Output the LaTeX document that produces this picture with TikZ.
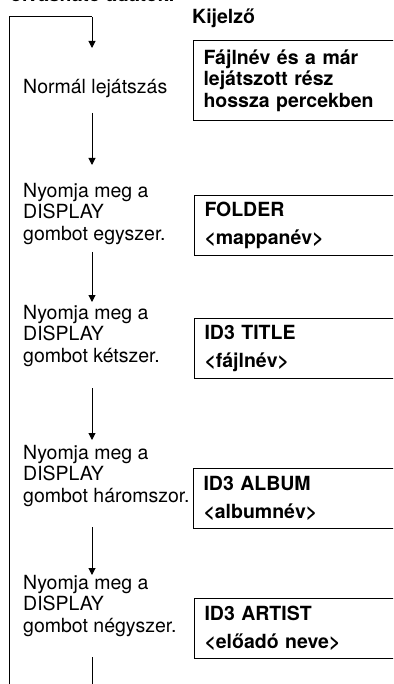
\documentclass[tikz,border=0pt]{standalone}
\usepackage{fontspec}
\setmainfont{TeX Gyre Heros}
\usetikzlibrary{arrows.meta}
\begin{document}
\begin{tikzpicture}[x=1pt,y=-1pt,
  ln/.style={line width=1pt, draw=black},
  arr/.style={ln, -{Triangle[width=7pt,length=7pt]}},
  lbl/.style={anchor=west, align=left, inner sep=0pt, font=\fontsize{19.5}{21.5}\selectfont},
  disp/.style={draw, line width=1pt, anchor=north west, minimum width=230pt, text width=210pt,
    align=left, inner xsep=9pt, inner ysep=0pt, font=\bfseries\fontsize{19.5}{28}\selectfont},
  disp1/.style={disp, minimum height=80pt, font=\bfseries\fontsize{19.5}{21.5}\selectfont},
  disp2/.style={disp, minimum height=60pt}]
\useasboundingbox (0,0) rectangle (393,684);
\clip (0,0) rectangle (393,684);
% clipped heading
\node[anchor=base west, inner sep=0pt, font=\bfseries\fontsize{19.5}{21}\selectfont] (head) at (10,2) {olvasható adatok.};
\node[anchor=west, inner sep=0pt, font=\bfseries\fontsize{19.5}{21}\selectfont] (kij) at (192,18) {Kijelző};
% left column
\node[lbl] (n0) at (23,89) {Normál lejátszás};
\node[lbl] (s1) at (23,214) {Nyomja meg a\\DISPLAY\\gombot egyszer.};
\node[lbl] (s2) at (23,336) {Nyomja meg a\\DISPLAY\\gombot kétszer.};
\node[lbl] (s3) at (23,476) {Nyomja meg a\\DISPLAY\\gombot háromszor.};
\node[lbl] (s4) at (23,606) {Nyomja meg a\\DISPLAY\\gombot négyszer.};
% display boxes
\node[disp1] (d0) at (193,40) {Fájlnév és a már\\lejátszott rész\\hossza percekben};
\node[disp2] (d1) at (194,195) {FOLDER\\<mappanév>};
\node[disp2] (d2) at (194,318) {ID3 TITLE\\<fájlnév>};
\node[disp2] (d3) at (193,468) {ID3 ALBUM\\<albumnév>};
\node[disp2] (d4) at (194,598) {ID3 ARTIST\\<előadó neve>};
% connector coordinates
\coordinate (c0) at (92,17);
\coordinate (e0) at (92,48);
\coordinate (c1) at (92,113);
\coordinate (e1) at (92,165);
\coordinate (c2) at (92,252);
\coordinate (e2) at (92,302);
\coordinate (c3) at (92,388);
\coordinate (e3) at (92,440);
\coordinate (c4) at (92,527);
\coordinate (e4) at (92,575);
\coordinate (c5) at (92,657);
\coordinate (e5) at (92,700);
\coordinate (lt) at (9,17);
\coordinate (lb) at (9,700);
\draw[ln] (lb) -- (lt) -- (c0);
\draw[arr] (c0) -- (e0);
\draw[arr] (c1) -- (e1);
\draw[arr] (c2) -- (e2);
\draw[arr] (c3) -- (e3);
\draw[arr] (c4) -- (e4);
\draw[ln] (c5) -- (e5);
\end{tikzpicture}
\end{document}
